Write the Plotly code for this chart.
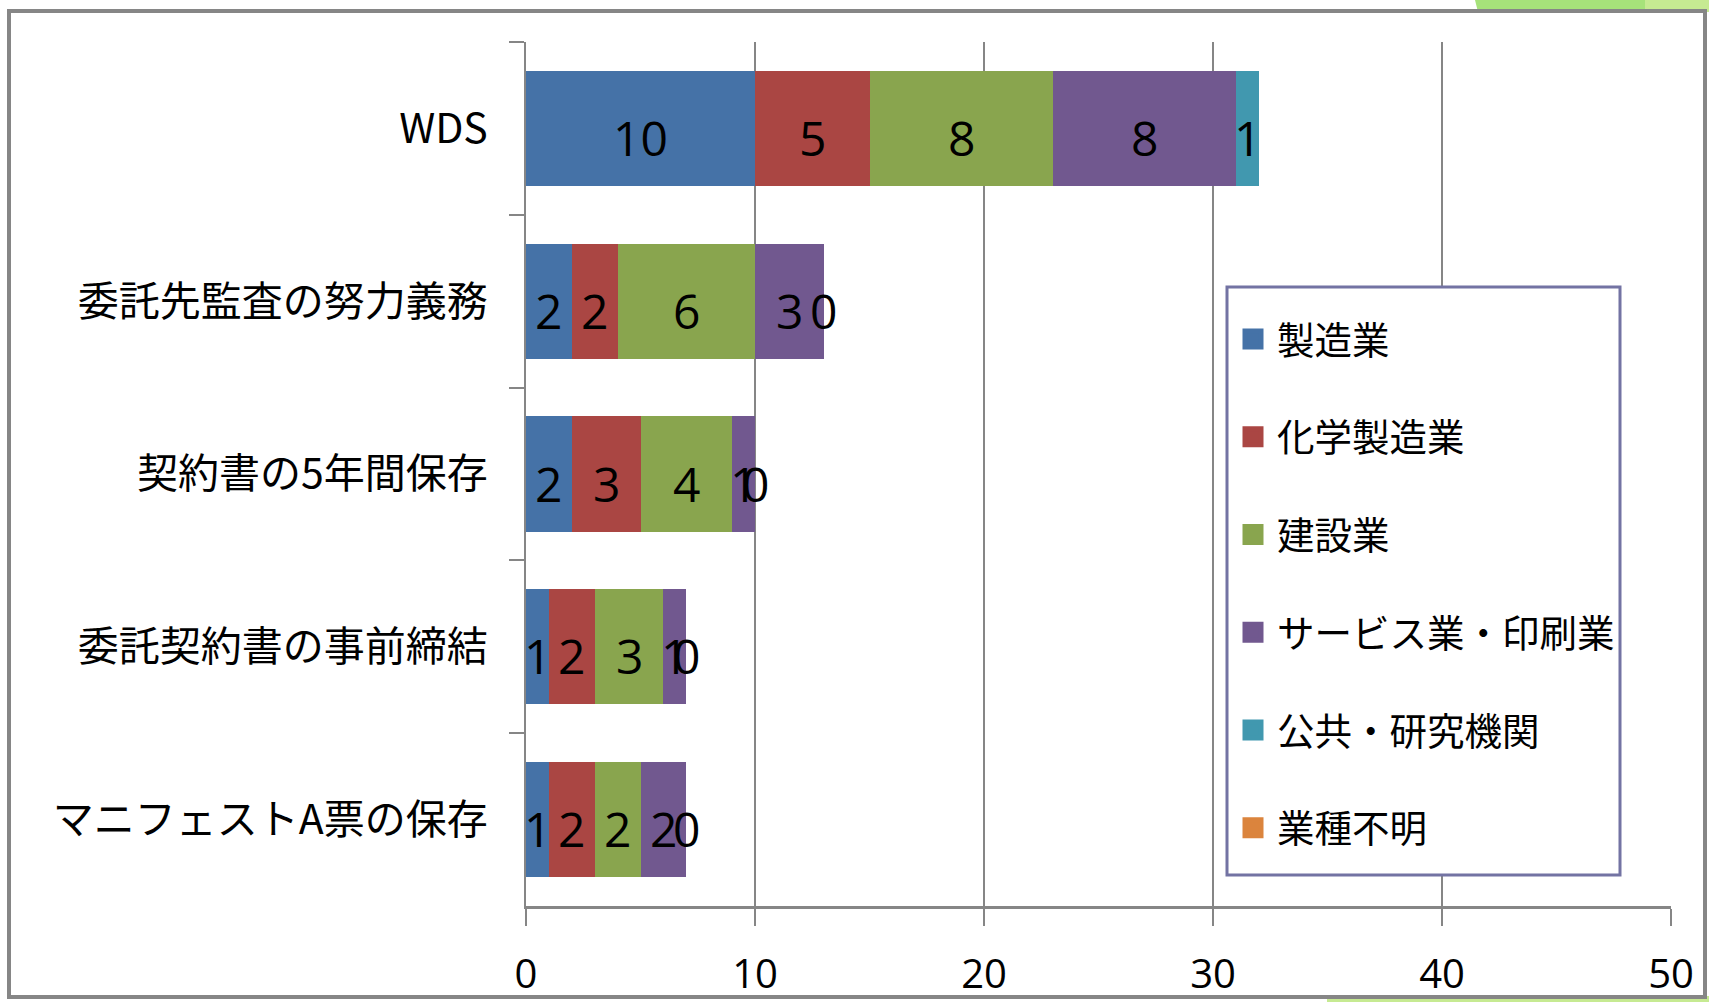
import numpy as np
import plotly.graph_objects as go

categories = ["WDS", "委託先監査の努力義務", "契約書の5年間保存", "委託契約書の事前締結", "マニフェストA票の保存"]
series_names = ["製造業", "化学製造業", "建設業", "サービス業・印刷業", "公共・研究機関", "業種不明"]
manufacturing = [10, 2, 2, 1, 1]
chemical = [5, 2, 3, 2, 2]
construction = [8, 6, 4, 3, 2]
service = [8, 3, 1, 1, 2]
public = [1, 0, 0, 0, 0]
unknown = [None, None, None, None, None]
x_ticks = [0, 10, 20, 30, 40, 50]

colors = ["#4572A7", "#AA4643", "#89A54E", "#71588F", "#4198AF", "#DB843D"]
series = [manufacturing, chemical, construction, service, public, unknown]

CJK = "Noto Sans CJK JP, Noto Sans CJK SC, sans-serif"
DIG = "Open Sans, Noto Sans, sans-serif"
GRAY = "#868686"

W, H = 1709, 1002
L, R, T, B = 526, 38, 42, 96
PW, PH = W - L - R, H - T - B


def px(x):
    return (x - L) / PW


def py(y):
    return (H - B - y) / PH


fig = go.Figure()
for name, vals, col in zip(series_names, series, colors):
    fig.add_trace(go.Bar(
        y=categories, x=vals, name=name, orientation="h",
        marker=dict(color=col, line=dict(width=0)),
        legendgroup=name, showlegend=False,
    ))
# legend entries (square swatches) tied to the bar traces through legendgroup
for name, col in zip(series_names, colors):
    fig.add_trace(go.Scatter(
        x=[None], y=[None], mode="markers", name=name, legendgroup=name,
        marker=dict(symbol="square", size=16, color=col, line=dict(color=col, width=5)),
        showlegend=True, hoverinfo="skip",
    ))

# data labels at the middle of each segment
annotations = []
cum = np.zeros(len(categories))
for name, vals in zip(series_names, series):
    v = np.array([np.nan if a is None else a for a in vals], dtype=float)
    mid = cum + np.nan_to_num(v) / 2.0
    for i, a in enumerate(vals):
        if a is not None:
            annotations.append(dict(
                x=mid[i], y=categories[i], xref="x", yref="y", text=str(a),
                showarrow=False, yshift=-9, xanchor="center", yanchor="middle",
                font=dict(family=DIG, size=48, color="black"),
            ))
    cum = cum + np.nan_to_num(v)

shapes = [
    # slide decorations
    dict(type="path", xref="paper", yref="paper",
         path=f"M{px(1475)},{py(0)} L{px(W)},{py(0)} L{px(W)},{py(12)} L{px(1478)},{py(12)} Z",
         fillcolor="#A6E27A", line=dict(width=0), layer="below"),
    dict(type="rect", xref="paper", yref="paper", x0=px(1645), x1=px(W), y0=py(0), y1=py(12),
         fillcolor="#C6EA92", line=dict(width=0), layer="below"),
    dict(type="rect", xref="paper", yref="paper", x0=px(1327), x1=px(W), y0=py(996), y1=py(H),
         fillcolor="#C6EA92", line=dict(width=0), layer="below"),
    # outer chart frame
    dict(type="rect", xref="paper", yref="paper", x0=px(9), x1=px(1705), y0=py(997), y1=py(11),
         line=dict(color=GRAY, width=4), fillcolor="rgba(0,0,0,0)", layer="above"),
    # legend box
    dict(type="rect", xref="paper", yref="paper", x0=px(1227), x1=px(1620), y0=py(875), y1=py(287),
         line=dict(color="#7373A3", width=3), fillcolor="white", layer="above"),
]

fig.update_layout(
    width=W, height=H, autosize=False,
    margin=dict(l=L, r=R, t=T, b=B, pad=0),
    paper_bgcolor="white", plot_bgcolor="white",
    barmode="stack", bargap=0.333,
    showlegend=True,
    legend=dict(
        x=px(1229), y=py(308), xanchor="left", yanchor="top",
        borderwidth=0, bgcolor="rgba(0,0,0,0)",
        font=dict(family=CJK, size=37.5, color="black"),
        traceorder="grouped", tracegroupgap=46, itemwidth=38,
    ),
    xaxis=dict(
        range=[0, 50], tickvals=x_ticks, ticktext=[str(t) for t in x_ticks],
        showgrid=True, gridcolor=GRAY, gridwidth=2,
        ticks="outside", ticklen=17, tickwidth=2, tickcolor=GRAY,
        showline=True, linecolor=GRAY, linewidth=3, zeroline=False,
        tickfont=dict(family=DIG, size=40, color="black"),
        ticklabelstandoff=14, fixedrange=True, automargin=False,
    ),
    yaxis=dict(
        type="category", categoryorder="array", categoryarray=categories,
        autorange="reversed", tickson="boundaries",
        ticks="outside", ticklen=15, tickwidth=2, tickcolor=GRAY,
        showline=True, linecolor=GRAY, linewidth=2, showgrid=False,
        tickfont=dict(family=CJK, size=41, color="black"),
        ticklabelstandoff=28, fixedrange=True, automargin=False,
    ),
    shapes=shapes,
    annotations=annotations,
)

fig.write_html(
    "out.html",
    config={"displayModeBar": False},
    post_script="document.body.style.margin='0';document.body.style.overflow='hidden';",
)
